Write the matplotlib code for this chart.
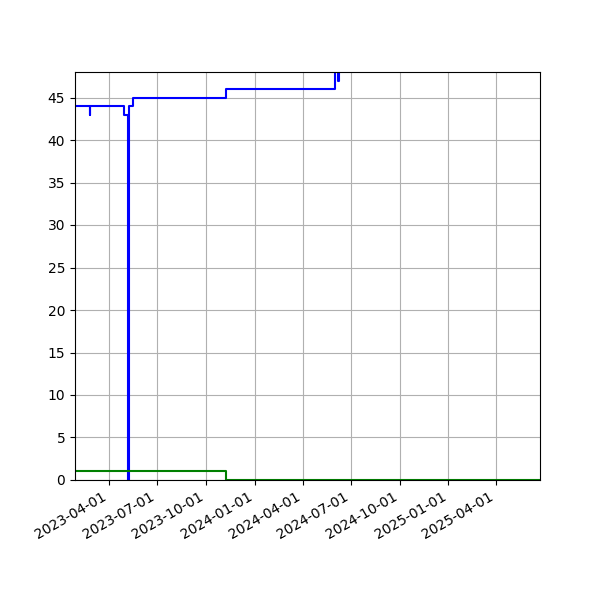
import matplotlib
matplotlib.use("Agg")
import matplotlib.pyplot as plt
import matplotlib.dates as mdates
import matplotlib.ticker as mticker
import pandas as pd

# change points (value holds until next date)
blue_dates = ["2023-01-27", "2023-02-24", "2023-02-25", "2023-04-29", "2023-05-08",
              "2023-05-09", "2023-05-16", "2023-11-08", "2024-05-31", "2024-06-07",
              "2024-06-08", "2025-06-23"]
blue_vals = [44, 43, 44, 43, 0, 44, 45, 46, 49, 47, 49, 49]

green_dates = ["2023-01-27", "2023-11-08", "2025-06-23"]
green_vals = [1, 0, 0]


def create_chart():
    fig, ax = plt.subplots(figsize=(6, 6), dpi=100)

    ax.plot(pd.to_datetime(blue_dates), blue_vals, color="b", drawstyle="steps-post")
    ax.plot(pd.to_datetime(green_dates), green_vals, color="g", drawstyle="steps-post")

    ax.set_xlim(pd.to_datetime(blue_dates[0]), pd.to_datetime(blue_dates[-1]))
    ax.set_ylim(0, 48)
    ax.yaxis.set_major_locator(mticker.MultipleLocator(5))
    ax.xaxis.set_major_locator(mdates.MonthLocator(bymonth=[1, 4, 7, 10]))
    ax.xaxis.set_major_formatter(mdates.DateFormatter("%Y-%m-%d"))
    ax.grid(True)
    fig.autofmt_xdate()
    fig.savefig("out.png")


if __name__ == "__main__":
    create_chart()
